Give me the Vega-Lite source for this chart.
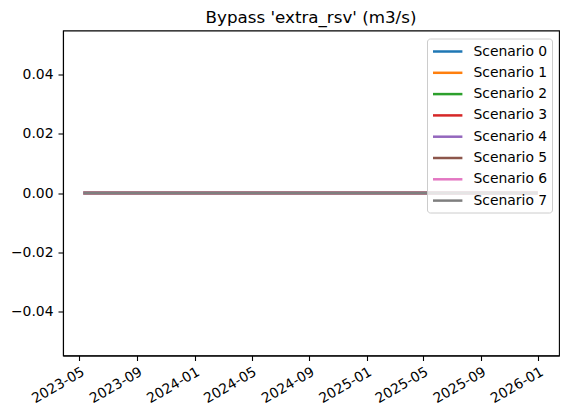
{
  "$schema": "https://vega.github.io/schema/vega-lite/v6.json",
  "width": 496,
  "height": 325,
  "autosize": {"type": "none"},
  "padding": {"left": 63, "top": 30.5, "right": 9, "bottom": 62.5},
  "background": "white",
  "title": {
    "text": "Bypass 'extra_rsv' (m3/s)",
    "font": "DejaVu Sans",
    "fontSize": 16.7,
    "fontWeight": "normal",
    "color": "black",
    "anchor": "middle",
    "offset": 4
  },
  "data": {
    "values": [
      {"date": "2023-05-12", "scenario": "Scenario 0", "value": 0},
      {"date": "2025-12-28", "scenario": "Scenario 0", "value": 0},
      {"date": "2023-05-12", "scenario": "Scenario 1", "value": 0},
      {"date": "2025-12-28", "scenario": "Scenario 1", "value": 0},
      {"date": "2023-05-12", "scenario": "Scenario 2", "value": 0},
      {"date": "2025-12-28", "scenario": "Scenario 2", "value": 0},
      {"date": "2023-05-12", "scenario": "Scenario 3", "value": 0},
      {"date": "2025-12-28", "scenario": "Scenario 3", "value": 0},
      {"date": "2023-05-12", "scenario": "Scenario 4", "value": 0},
      {"date": "2025-12-28", "scenario": "Scenario 4", "value": 0},
      {"date": "2023-05-12", "scenario": "Scenario 5", "value": 0},
      {"date": "2025-12-28", "scenario": "Scenario 5", "value": 0},
      {"date": "2023-05-12", "scenario": "Scenario 6", "value": 0},
      {"date": "2025-12-28", "scenario": "Scenario 6", "value": 0},
      {"date": "2023-05-12", "scenario": "Scenario 7", "value": 0},
      {"date": "2025-12-28", "scenario": "Scenario 7", "value": 0}
    ]
  },
  "mark": {"type": "line", "strokeWidth": 2.5, "strokeCap": "square"},
  "encoding": {
    "x": {
      "field": "date",
      "type": "temporal",
      "title": null,
      "scale": {
        "type": "utc",
        "domain": [
          {"year": 2023, "month": 3, "date": 27, "utc": true},
          {"year": 2026, "month": 2, "date": 14, "utc": true}
        ],
        "nice": false
      },
      "axis": {
        "values": [
          {"year": 2023, "month": 5, "date": 1, "utc": true},
          {"year": 2023, "month": 9, "date": 1, "utc": true},
          {"year": 2024, "month": 1, "date": 1, "utc": true},
          {"year": 2024, "month": 5, "date": 1, "utc": true},
          {"year": 2024, "month": 9, "date": 1, "utc": true},
          {"year": 2025, "month": 1, "date": 1, "utc": true},
          {"year": 2025, "month": 5, "date": 1, "utc": true},
          {"year": 2025, "month": 9, "date": 1, "utc": true},
          {"year": 2026, "month": 1, "date": 1, "utc": true}
        ],
        "format": "%Y-%m",
        "labelAngle": -30,
        "labelAlign": "right",
        "labelBaseline": "top",
        "labelPadding": 4,
        "labelOverlap": false
      }
    },
    "y": {
      "field": "value",
      "type": "quantitative",
      "title": null,
      "scale": {"domain": [-0.055, 0.055], "nice": false, "zero": false},
      "axis": {
        "values": [-0.04, -0.02, 0, 0.02, 0.04],
        "format": ".2f"
      }
    },
    "color": {
      "field": "scenario",
      "type": "nominal",
      "title": null,
      "scale": {
        "domain": ["Scenario 0", "Scenario 1", "Scenario 2", "Scenario 3", "Scenario 4", "Scenario 5", "Scenario 6", "Scenario 7"],
        "range": ["#1f77b4", "#ff7f0e", "#2ca02c", "#d62728", "#9467bd", "#8c564b", "#e377c2", "#7f7f7f"]
      },
      "legend": {
        "orient": "top-right",
        "offset": 7.5,
        "padding": 4.5,
        "symbolType": "M-1,0H3.2",
        "symbolSize": 196,
        "symbolStrokeWidth": 2.5,
        "symbolFillColor": "transparent",
        "labelOffset": 25,
        "rowPadding": 5.3,
        "strokeColor": "#cccccc",
        "fillColor": "rgba(255,255,255,0.8)",
        "cornerRadius": 3
      }
    }
  },
  "config": {
    "font": "DejaVu Sans",
    "view": {"stroke": "black", "strokeWidth": 1.1},
    "axis": {
      "grid": false,
      "domainColor": "black",
      "domainWidth": 1.1,
      "tickColor": "black",
      "tickWidth": 1.1,
      "tickSize": 5,
      "labelPadding": 5,
      "labelFont": "DejaVu Sans",
      "labelFontSize": 13.9,
      "labelColor": "black"
    },
    "legend": {
      "labelFont": "DejaVu Sans",
      "labelFontSize": 13.9,
      "labelColor": "black",
      "labelLimit": 200
    }
  }
}
